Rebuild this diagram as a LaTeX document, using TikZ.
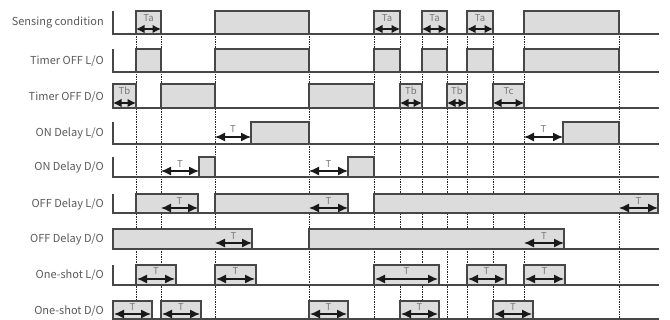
\documentclass[tikz,border=0pt]{standalone}
\usepackage{fontspec}
\setmainfont{Noto Sans CJK JP}
\usetikzlibrary{arrows.meta}
\definecolor{boxfill}{HTML}{DCDCDC}
\definecolor{edge}{HTML}{474747}
\definecolor{txt}{HTML}{5A5A5A}
\definecolor{durtxt}{HTML}{777777}
\begin{document}
\begin{tikzpicture}[x=1pt,y=-1pt,
  rowlabel/.style={anchor=east, text=txt, font=\fontsize{11}{12}\selectfont, inner sep=0},
  sig/.style={draw=edge, line width=1.2pt},
  pulsebox/.style={draw=edge, fill=boxfill, line width=1.2pt},
  guide/.style={draw=black!85, line width=0.8pt, dash pattern=on 1.2pt off 1.3pt},
  dur/.style={{Latex[length=10pt,width=9pt]}-{Latex[length=10pt,width=9pt]}, line width=1.3pt, draw=black!90},
  shortdur/.style={{Latex[length=8.5pt,width=8.5pt]}-{Latex[length=8.5pt,width=8.5pt]}, line width=1.3pt, draw=black!90},
  durlab/.style={text=durtxt, font=\fontsize{9.5}{10}\selectfont, inner sep=0}]
\useasboundingbox (0,0) rectangle (670,320);

% row labels
\node[rowlabel] (l1) at (104,23) {Sensing condition};
\node[rowlabel] (l2) at (104,61) {Timer OFF L/O};
\node[rowlabel] (l3) at (104,97) {Timer OFF D/O};
\node[rowlabel] (l4) at (104,133) {ON Delay L/O};
\node[rowlabel] (l5) at (104,167) {ON Delay D/O};
\node[rowlabel] (l6) at (104,204) {OFF Delay L/O};
\node[rowlabel] (l7) at (104,239) {OFF Delay D/O};
\node[rowlabel] (l8) at (104,275) {One-shot L/O};
\node[rowlabel] (l9) at (104,311) {One-shot D/O};

% guide lines at sensing transitions
\foreach \x in {136,161,215,309,374,400,422,447,467,493,524,619}
  \draw[guide] (\x,34) -- (\x,320);

% baselines and left ticks
\foreach \b/\h in {34/11,72/49,108/84,144/122,177/157,213/194,249/229,285/265,319/301}
  \draw[sig] (113,\h) -- (113,\b) -- (659,\b);

% Row 1: Sensing condition
\foreach \a/\c in {136/161,215/309,374/400,422/447,467/493,524/619}
  \draw[pulsebox] (\a,11) rectangle (\c,34);
\foreach \a/\c in {136/161,374/400,422/447,467/493}{
  \draw[shortdur] (\a,29) -- (\c,29);
  \node[durlab] at ({(\a+\c)/2},18) {Ta};}

% Row 2: Timer OFF L/O
\foreach \a/\c in {136/161,215/309,374/400,422/447,467/493,524/619}
  \draw[pulsebox] (\a,49) rectangle (\c,72);

% Row 3: Timer OFF D/O
\foreach \a/\c in {113/136,161/215,309/374,400/422,447/467,493/524}
  \draw[pulsebox] (\a,84) rectangle (\c,108);
\foreach \a/\c/\t in {113/136/Tb,400/422/Tb,447/467/Tb,493/524/Tc}{
  \draw[shortdur] (\a,103) -- (\c,103);
  \node[durlab] at ({(\a+\c)/2},91) {\t};}

% Row 4: ON Delay L/O
\draw[pulsebox] (251,122) rectangle (309,144);
\draw[pulsebox] (563,122) rectangle (619,144);
\foreach \a/\c in {215/251,524/563}{
  \draw[dur] (\a,137) -- (\c,137);
  \node[durlab] at ({(\a+\c)/2},129) {T};}

% Row 5: ON Delay D/O
\draw[pulsebox] (199,157) rectangle (215,177);
\draw[pulsebox] (348,157) rectangle (374,177);
\foreach \a/\c in {161/199,309/348}{
  \draw[dur] (\a,171) -- (\c,171);
  \node[durlab] at ({(\a+\c)/2},164) {T};}

% Row 6: OFF Delay L/O
\foreach \a/\c in {136/198,215/348,374/658}
  \draw[pulsebox] (\a,194) rectangle (\c,213);
\foreach \a/\c in {161/198,309/348,619/658}{
  \draw[dur] (\a,208) -- (\c,208);
  \node[durlab] at ({(\a+\c)/2},201) {T};}

% Row 7: OFF Delay D/O
\foreach \a/\c in {113/252,309/564}
  \draw[pulsebox] (\a,229) rectangle (\c,249);
\foreach \a/\c in {215/252,524/564}{
  \draw[dur] (\a,243) -- (\c,243);
  \node[durlab] at ({(\a+\c)/2},236) {T};}

% Row 8: One-shot L/O
\foreach \a/\c in {136/176,215/256,374/439,467/506,524/565}{
  \draw[pulsebox] (\a,265) rectangle (\c,285);
  \draw[dur] (\a+1,279) -- (\c-1,279);
  \node[durlab] at ({(\a+\c)/2},271) {T};}

% Row 9: One-shot D/O
\foreach \a/\c in {113/152,161/201,309/348,400/439,493/533}{
  \draw[pulsebox] (\a,301) rectangle (\c,319);
  \draw[dur] (\a+1,314) -- (\c-1,314);
  \node[durlab] at ({(\a+\c)/2},307) {T};}
\end{tikzpicture}
\end{document}
